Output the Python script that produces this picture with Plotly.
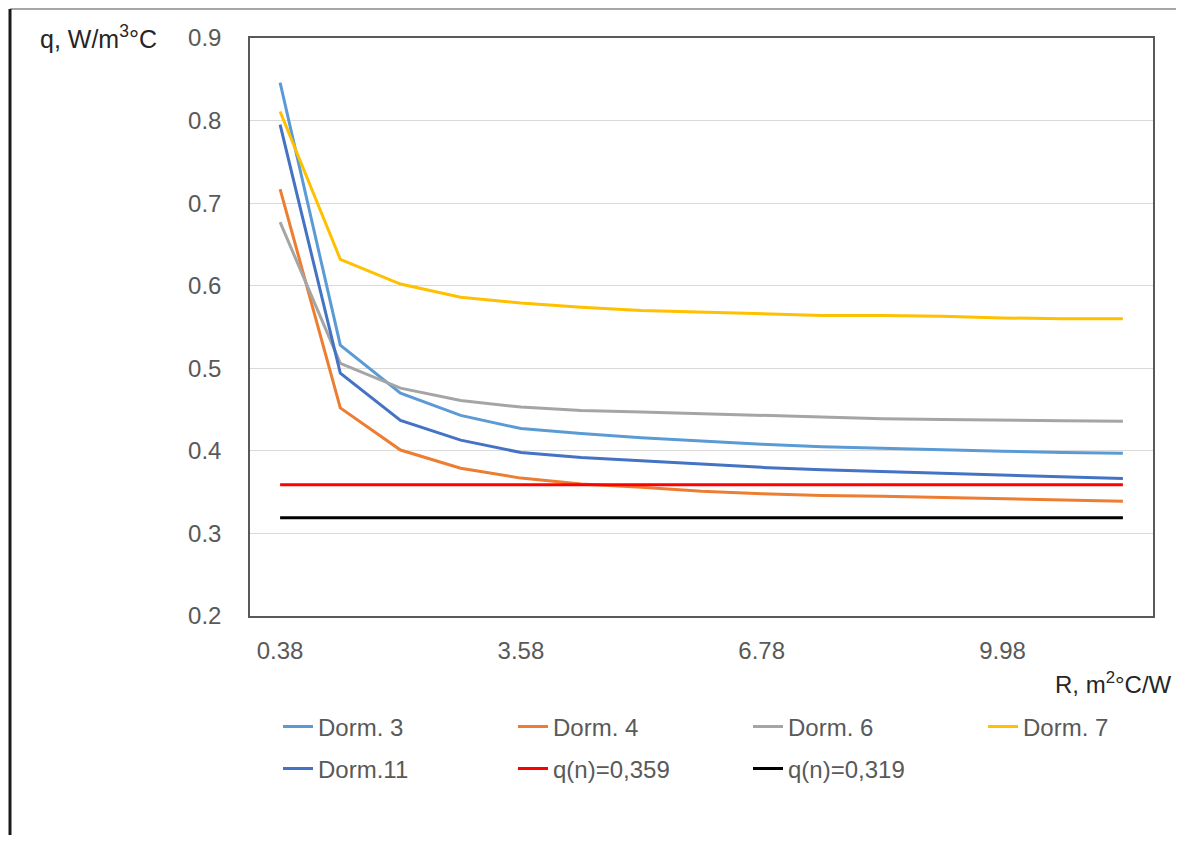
import plotly.graph_objects as go

categories = ["0.38", "1.18", "1.98", "2.78", "3.58", "4.38", "5.18", "5.98",
              "6.78", "7.58", "8.38", "9.18", "9.98", "10.78", "11.58"]
dorm3 = [0.846, 0.528, 0.470, 0.443, 0.427, 0.421, 0.416, 0.412, 0.408, 0.405,
         0.403, 0.401, 0.3995, 0.398, 0.397]
dorm4 = [0.717, 0.452, 0.401, 0.379, 0.367, 0.360, 0.356, 0.351, 0.348, 0.346,
         0.345, 0.3435, 0.342, 0.340, 0.339]
dorm6 = [0.677, 0.506, 0.476, 0.461, 0.453, 0.449, 0.447, 0.445, 0.443, 0.441,
         0.439, 0.438, 0.437, 0.4365, 0.436]
dorm7 = [0.811, 0.632, 0.602, 0.586, 0.579, 0.574, 0.570, 0.568, 0.566, 0.564,
         0.564, 0.563, 0.561, 0.560, 0.560]
dorm11 = [0.795, 0.494, 0.437, 0.413, 0.398, 0.392, 0.388, 0.384, 0.380, 0.377,
          0.375, 0.373, 0.371, 0.369, 0.3665]
qn1 = [0.359] * len(categories)
qn2 = [0.319] * len(categories)
x_ticks = ["0.38", "3.58", "6.78", "9.98"]
y_ticks = [0.2, 0.3, 0.4, 0.5, 0.6, 0.7, 0.8, 0.9]

series_names = ["Dorm. 3", "Dorm. 4", "Dorm. 6", "Dorm. 7",
                "Dorm.11", "q(n)=0,359", "q(n)=0,319"]
series_values = [dorm3, dorm4, dorm6, dorm7, dorm11, qn1, qn2]
series_colors = ["#5B9BD5", "#ED7D31", "#A5A5A5", "#FFC000",
                 "#4472C4", "#FF0000", "#000000"]

FONT = "Liberation Sans, Arial, sans-serif"
FS = 24

# reference-image pixel geometry (page has an 8px body margin on every side)
OFF = 8
W, H = 1184 - 2 * OFF, 843 - 2 * OFF
L, R, T, B = 250, 1153, 38, 616
pw, ph = R - L, B - T


def px(xp):
    return (xp - L) / pw


def py(yp):
    return (B - yp) / ph


# legend layout: text start x for each column, row centre y
legend_text_x = [320, 555, 790, 1025, 320, 555, 790]
legend_row_y = [727, 727, 727, 727, 769, 769, 769]

fig = go.Figure()
layout_legends = {}
for i, (name, vals, color) in enumerate(zip(series_names, series_values, series_colors)):
    lg = "legend" if i == 0 else f"legend{i + 1}"
    fig.add_trace(go.Scatter(x=categories, y=vals, mode="lines", name=name,
                             line=dict(color=color, width=3), legend=lg,
                             showlegend=True))
    layout_legends[lg] = dict(
        x=px(legend_text_x[i] - 42), y=py(legend_row_y[i]),
        xanchor="left", yanchor="middle", orientation="h",
        font=dict(family=FONT, size=FS, color="#595959"),
        bgcolor="rgba(0,0,0,0)", borderwidth=0)

fig.update_layout(
    width=W, height=H, showlegend=True,
    margin=dict(l=L - OFF, r=(1184 - OFF) - R, t=T - OFF, b=(843 - OFF) - B,
                autoexpand=False),
    paper_bgcolor="white", plot_bgcolor="white",
    font=dict(family=FONT, size=FS, color="#595959"),
    xaxis=dict(type="category", categoryorder="array", categoryarray=categories,
               range=[-0.5, len(categories) - 0.5],
               tickmode="array", tickvals=x_ticks, ticktext=x_ticks,
               showgrid=False, showline=True, linecolor="#595959", linewidth=1.5,
               mirror=True, ticks="", ticklabelstandoff=12,
               tickfont=dict(family=FONT, size=FS, color="#595959")),
    yaxis=dict(range=[0.2, 0.9], tickmode="array", tickvals=y_ticks,
               ticktext=[f"{v:.1f}" for v in y_ticks],
               showgrid=True, gridcolor="#D9D9D9", gridwidth=1.2,
               showline=True, linecolor="#595959", linewidth=1.5, mirror=True,
               zeroline=False, ticks="", ticklabelstandoff=22,
               tickfont=dict(family=FONT, size=FS, color="#595959")),
    annotations=[
        dict(text="q, W/m<sup>3</sup>°C", x=px(38), y=py(37), xref="paper", yref="paper",
             xanchor="left", yanchor="middle", showarrow=False,
             font=dict(family=FONT, size=25, color="#262626")),
        dict(text="R, m<sup>2</sup>°C/W", x=px(1174), y=py(683), xref="paper", yref="paper",
             xanchor="right", yanchor="middle", showarrow=False,
             font=dict(family=FONT, size=FS, color="#262626")),
    ],
    shapes=[
        dict(type="line", xref="paper", yref="paper", x0=px(10), x1=px(1176),
             y0=py(9), y1=py(9), line=dict(color="#A6A6A6", width=2)),
        dict(type="line", xref="paper", yref="paper", x0=px(10), x1=px(10),
             y0=py(9), y1=py(835), line=dict(color="#1A1A1A", width=3)),
    ],
    **layout_legends,
)

fig.write_html("out.html")
